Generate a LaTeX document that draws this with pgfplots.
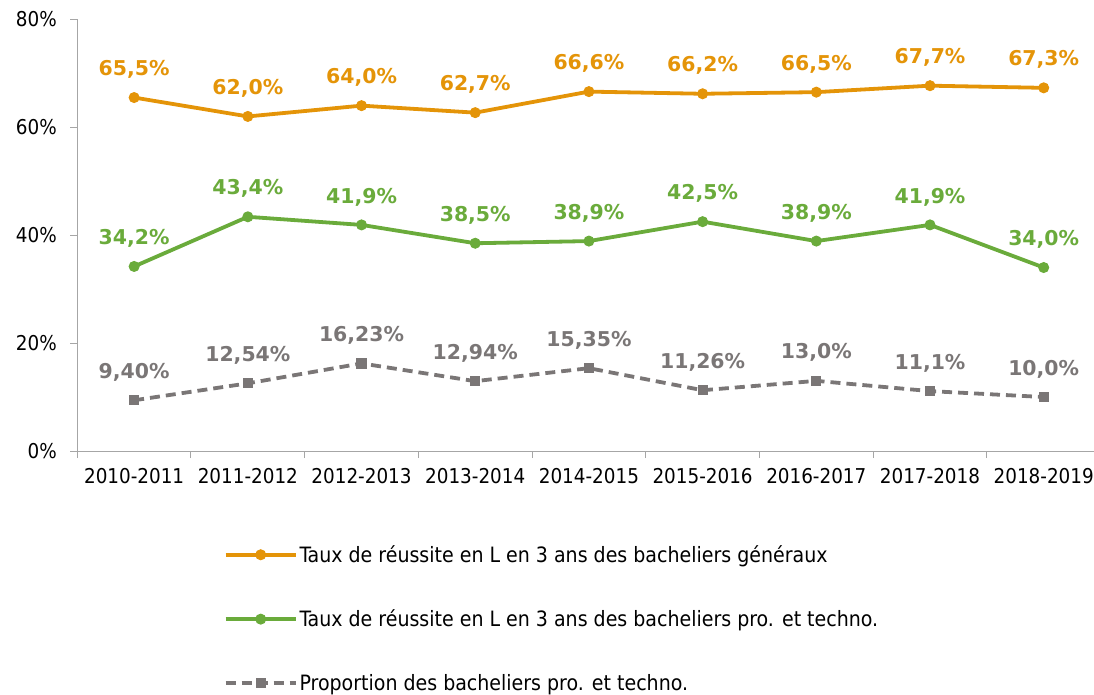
\documentclass[border=0pt]{standalone}
\usepackage{pgfplots}
\pgfplotsset{compat=1.18}
\usepackage{fontspec}
\setmainfont{DejaVu Sans}
\newfontfamily\condfont{DejaVu Sans Condensed}
\definecolor{orng}{RGB}{228,148,8}
\definecolor{grn}{RGB}{106,171,59}
\definecolor{gry}{RGB}{122,118,118}
\definecolor{axgray}{RGB}{166,166,166}
\begin{document}
\begin{tikzpicture}
\begin{axis}[
  at={(0,0)}, anchor=south west,
  scale only axis, width=1023.3bp, height=431.7bp,
  xmin=-0.5, xmax=8.5, ymin=0, ymax=80,
  axis lines*=left,
  axis line style={axgray, line width=1bp},
  xtick={0,...,8},
  xticklabels={2010-2011,2011-2012,2012-2013,2013-2014,2014-2015,2015-2016,2016-2017,2017-2018,2018-2019},
  major x tick style={draw=none},
  minor xtick={-0.5,0.5,...,8.5},
  ytick={0,20,40,60,80},
  yticklabels={0\%,20\%,40\%,60\%,80\%},
  tick align=outside, major tick length=7bp, minor tick length=7bp,
  every tick/.style={axgray, line width=1bp},
  ticklabel style={font=\condfont\fontsize{20.5}{24}\selectfont, text=black},
  xticklabel style={yshift=-7bp},
  yticklabel style={xshift=-10bp},
  clip=false,
  legend style={at={(axis description cs:0.143,-0.214)}, anchor=north west, draw=none, fill=none, inner sep=0pt,
    row sep=42bp, font=\condfont\fontsize{21.2}{25}\selectfont, cells={anchor=west},
    /tikz/every even column/.append style={column sep=3bp}},
  legend image code/.code={\draw[mark repeat=2,mark phase=2] plot coordinates {(0bp,0bp)(35bp,0bp)(70bp,0bp)};},
  nodes near coords, point meta=explicit symbolic,
  every node near coord/.append style={font=\bfseries\fontsize{20.5}{22}\selectfont, anchor=center, yshift=28bp},
]
\addplot[orng, line width=3.8bp, mark=*, mark size=5bp, mark options={line width=1bp}, every node near coord/.append style={text=orng}]
 table[meta=label] {
x y label
0 65.5 {65,5\%}
1 62.0 {62,0\%}
2 64.0 {64,0\%}
3 62.7 {62,7\%}
4 66.6 {66,6\%}
5 66.2 {66,2\%}
6 66.5 {66,5\%}
7 67.7 {67,7\%}
8 67.3 {67,3\%}
};
\addlegendentry{Taux de réussite en L en 3 ans des bacheliers généraux}
\addplot[grn, line width=3.8bp, mark=*, mark size=5bp, mark options={line width=1bp}, every node near coord/.append style={text=grn}]
 table[meta=label] {
x y label
0 34.2 {34,2\%}
1 43.4 {43,4\%}
2 41.9 {41,9\%}
3 38.5 {38,5\%}
4 38.9 {38,9\%}
5 42.5 {42,5\%}
6 38.9 {38,9\%}
7 41.9 {41,9\%}
8 34.0 {34,0\%}
};
\addlegendentry{Taux de réussite en L en 3 ans des bacheliers pro. et techno.}
\addplot[gry, line width=3.8bp, dash pattern=on 10bp off 6bp, mark=square*, mark size=4.6bp, mark options={solid, line width=1bp}, every node near coord/.append style={text=gry}]
 table[meta=label] {
x y label
0 9.40 {9,40\%}
1 12.54 {12,54\%}
2 16.23 {16,23\%}
3 12.94 {12,94\%}
4 15.35 {15,35\%}
5 11.26 {11,26\%}
6 13.0 {13,0\%}
7 11.1 {11,1\%}
8 10.0 {10,0\%}
};
\addlegendentry{Proportion des bacheliers pro. et techno.}
\end{axis}
\pgfresetboundingbox
\path[use as bounding box] (-77.3bp,-244bp) rectangle (1016.7bp,451bp);
\end{tikzpicture}
\end{document}
